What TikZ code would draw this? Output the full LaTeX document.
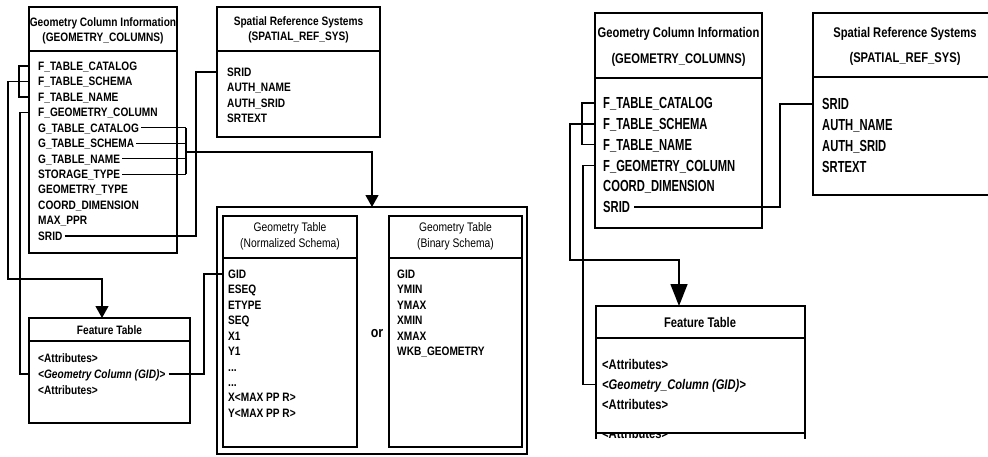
\documentclass[tikz,border=0pt]{standalone}
\usepackage{fontspec}
\setmainfont{Liberation Sans}
\newfontfamily\narrowL{Liberation Sans}[FakeStretch=0.83]
\newfontfamily\narrowR{Liberation Sans}[FakeStretch=0.70]
\newfontfamily\narrowH{Liberation Sans}[FakeStretch=0.80]
\usetikzlibrary{arrows.meta}

\begin{document}
\begin{tikzpicture}[x=1pt,y=-1pt,
  % table frames
  lbox/.style={draw, line width=1.4pt, anchor=north west, inner sep=0pt, outer sep=0pt},
  rbox/.style={draw, line width=1.6pt, anchor=north west, inner sep=0pt, outer sep=0pt},
  lsep/.style={line width=2pt},
  rsep/.style={line width=2.5pt},
  % text rows
  lrow/.style={anchor=west, inner sep=0pt, text height=8.7pt, text depth=0pt,
    font=\narrowL\bfseries\fontsize{12.2pt}{14pt}\selectfont},
  lhead/.style={lrow, anchor=center},
  lghead/.style={anchor=center, inner sep=0pt, text height=8.7pt, text depth=0pt,
    font=\narrowL\fontsize{12.4pt}{14pt}\selectfont},
  rrow/.style={anchor=west, inner sep=0pt, text height=11.5pt, text depth=0pt,
    font=\narrowR\bfseries\fontsize{16pt}{18pt}\selectfont},
  rhead/.style={anchor=center, inner sep=0pt, text height=10pt, text depth=0pt,
    font=\narrowH\bfseries\fontsize{14pt}{16pt}\selectfont},
  rfrow/.style={rhead, anchor=west},
  % connectors
  lcon/.style={line width=1.2pt},
  rcon/.style={line width=1.5pt},
  ltip/.style={-{Triangle[width=13pt,length=12pt]}},
  rtip/.style={-{Triangle[width=17pt,length=22pt]}}
]
\path[use as bounding box] (0,0) rectangle (988,456);
\clip (0,0) rectangle (988,456);

%================ left model ================
% Geometry Column Information
\node[lbox, minimum width=148pt, minimum height=246pt] (lgci) at (29,7) {};
\draw[lsep] (29,51) -- (177,51);
\node[lhead] (lgcih1) at (103,22) {Geometry Column Information};
\node[lhead] (lgcih2) at (103,37) {(GEOMETRY\_COLUMNS)};
\node[lrow] (lftc)  at (38,66)     {F\_TABLE\_CATALOG};
\node[lrow] (lfts)  at (38,81.45)  {F\_TABLE\_SCHEMA};
\node[lrow] (lftn)  at (38,96.9)   {F\_TABLE\_NAME};
\node[lrow] (lfgc)  at (38,112.35) {F\_GEOMETRY\_COLUMN};
\node[lrow] (lgtc)  at (38,127.8)  {G\_TABLE\_CATALOG};
\node[lrow] (lgts)  at (38,143.25) {G\_TABLE\_SCHEMA};
\node[lrow] (lgtn)  at (38,158.7)  {G\_TABLE\_NAME};
\node[lrow] (lstt)  at (38,174.15) {STORAGE\_TYPE};
\node[lrow] (lgty)  at (38,189.6)  {GEOMETRY\_TYPE};
\node[lrow] (lcdim) at (38,205.05) {COORD\_DIMENSION};
\node[lrow] (lmppr) at (38,220.5)  {MAX\_PPR};
\node[lrow] (lsrid) at (38,235.95) {SRID};

% Spatial Reference Systems
\node[lbox, minimum width=163pt, minimum height=130pt] (lsrs) at (217,7) {};
\draw[lsep] (217,51) -- (380,51);
\node[lhead] (lsrsh1) at (298.5,21.5) {Spatial Reference Systems};
\node[lhead] (lsrsh2) at (298.5,36)   {(SPATIAL\_REF\_SYS)};
\node[lrow] (lssrid) at (227,72)    {SRID};
\node[lrow] (lsauth) at (227,87.5)  {AUTH\_NAME};
\node[lrow] (lsasr)  at (227,103)   {AUTH\_SRID};
\node[lrow] (lstext) at (227,118.5) {SRTEXT};

% Feature Table
\node[lbox, minimum width=161pt, minimum height=105pt] (lfeat) at (29,318) {};
\draw[lsep] (29,341) -- (190,341);
\node[lhead] (lfeath) at (109.5,330) {Feature Table};
\node[lrow] (lfa1)  at (38,358) {<Attributes>};
\node[lrow] (lgcol) at (38,374) {\itshape <Geometry Column (GID)>};
\node[lrow] (lfa2)  at (38,390) {<Attributes>};

% Geometry tables and their frame
\node[lbox, minimum width=310pt, minimum height=247pt] (lcont) at (217,207) {};
\node[lbox, minimum width=134pt, minimum height=231pt] (lnorm) at (223,216) {};
\draw[lsep] (223,258) -- (357,258);
\node[lghead] (lnormh1) at (290,227.5) {Geometry Table};
\node[lghead] (lnormh2) at (290,243)   {(Normalized Schema)};
\node[lrow] (ngid)  at (228,274)    {GID};
\node[lrow] (neseq) at (228,289.45) {ESEQ};
\node[lrow] (netyp) at (228,304.9)  {ETYPE};
\node[lrow] (nseq)  at (228,320.35) {SEQ};
\node[lrow] (nx1)   at (228,335.8)  {X1};
\node[lrow] (ny1)   at (228,351.25) {Y1};
\node[lrow] (ndot1) at (228,366.7)  {...};
\node[lrow] (ndot2) at (228,382.15) {...};
\node[lrow] (nxmax) at (228,397.6)  {X<MAX PP R>};
\node[lrow] (nymax) at (228,413.05) {Y<MAX PP R>};

\node[inner sep=0pt, font=\narrowL\bfseries\fontsize{15pt}{17pt}\selectfont] (orword) at (377,334) {or};

\node[lbox, minimum width=133pt, minimum height=231pt] (lbin) at (389,216) {};
\draw[lsep] (389,258) -- (522,258);
\node[lghead] (lbinh1) at (455.5,227.5) {Geometry Table};
\node[lghead] (lbinh2) at (455.5,243)   {(Binary Schema)};
\node[lrow] (bgid)  at (397,274)    {GID};
\node[lrow] (bymin) at (397,289.45) {YMIN};
\node[lrow] (bymax) at (397,304.9)  {YMAX};
\node[lrow] (bxmin) at (397,320.35) {XMIN};
\node[lrow] (bxmax) at (397,335.8)  {XMAX};
\node[lrow] (bwkb)  at (397,351.25) {WKB\_GEOMETRY};

% left connectors
\coordinate (lbend) at (8,279);
\coordinate (ldrop) at (102,279);
\coordinate (lbus)  at (186,152);
\coordinate (lsj)   at (196,0);
\coordinate (lgj)   at (204,0);

\draw[lcon] (lftc.west -| lgci.west) -- ++(-10,0) |- (lftn.west -| lgci.west);
\draw[lcon, ltip] (lfts.west -| lgci.west) -| (lbend) -- (ldrop) -- (ldrop |- lfeat.north);
\draw[lcon] (lfgc.west -| lgci.west) -- ++(-9,0) |- (lgcol.west -| lfeat.west);
\draw[lcon] ([xshift=2pt]lgtc.east) -- (lgtc.east -| lbus);
\draw[lcon] ([xshift=2pt]lgts.east) -- (lgts.east -| lbus);
\draw[lcon] ([xshift=2pt]lgtn.east) -- (lgtn.east -| lbus);
\draw[lcon] ([xshift=2pt]lstt.east) -- (lstt.east -| lbus);
\draw[lcon] (lgtc.east -| lbus) -- (lstt.east -| lbus);
\draw[lcon, ltip] (lbus) -| (lcont.north);
\draw[lcon] ([xshift=2pt]lsrid.east) -| (lsj |- lssrid.west) -- (lssrid.west -| lsrs.west);
\draw[lcon] ([xshift=3pt]lgcol.east) -| (lgj |- ngid.west) -- (ngid.west -| lnorm.west);

%================ right model ================
% Geometry Column Information
\node[rbox, minimum width=167pt, minimum height=215pt] (rgci) at (595,13) {};
\draw[rsep] (595,78) -- (762,78);
\node[rhead] (rgcih1) at (678.5,32) {Geometry Column Information};
\node[rhead] (rgcih2) at (678.5,58.5) {(GEOMETRY\_COLUMNS)};
\node[rrow] (rftc)  at (603,103)   {F\_TABLE\_CATALOG};
\node[rrow] (rfts)  at (603,123.8) {F\_TABLE\_SCHEMA};
\node[rrow] (rftn)  at (603,144.6) {F\_TABLE\_NAME};
\node[rrow] (rfgc)  at (603,165.4) {F\_GEOMETRY\_COLUMN};
\node[rrow] (rcdim) at (603,186.2) {COORD\_DIMENSION};
\node[rrow] (rsrid) at (603,207)   {SRID};

% Spatial Reference Systems
\node[rbox, minimum width=184pt, minimum height=182pt] (rsrs) at (813,13) {};
\draw[rsep] (813,77) -- (997,77);
\node[rhead] (rsrsh1) at (905,32)   {Spatial Reference Systems};
\node[rhead] (rsrsh2) at (905,57.5) {(SPATIAL\_REF\_SYS)};
\node[rrow] (rssrid) at (822,104)   {SRID};
\node[rrow] (rsauth) at (822,124.8) {AUTH\_NAME};
\node[rrow] (rsasr)  at (822,145.6) {AUTH\_SRID};
\node[rrow] (rstext) at (822,166.4) {SRTEXT};

% Feature Table
\node[rbox, minimum width=209pt, minimum height=127pt] (rfeat) at (596,306) {};
\draw[rsep] (596,338) -- (805,338);
\node[rhead] (rfeath) at (700,322) {Feature Table};
\node[rfrow] (rfa1)  at (602,364)   {<Attributes>};
\node[rfrow] (rgcol) at (602,384.5) {\itshape <Geometry\_Column (GID)>};
\node[rfrow] (rfa2)  at (602,404.5) {<Attributes>};
% the frame runs on past its bottom edge into a cut-off row
\draw[line width=1.6pt] (rfeat.south west) -- ++(0,6);
\draw[line width=1.6pt] (rfeat.south east) -- ++(0,6);
\begin{scope}
  \clip (597,434) rectangle (804,439);
  \node[rfrow] (rfa3) at (602,433) {<Attributes>};
\end{scope}

% right connectors
\coordinate (rbend) at (570,260);
\coordinate (rdrop) at (679,260);
\coordinate (rsj)   at (780,0);

\draw[rcon] (rftc.west -| rgci.west) -- ++(-13,0) |- (rftn.west -| rgci.west);
\draw[rcon, rtip] (rfts.west -| rgci.west) -| (rbend) -- (rdrop) -- (rdrop |- rfeat.north);
\draw[rcon] (rfgc.west -| rgci.west) -- ++(-12,0) |- (rgcol.west -| rfeat.west);
\draw[rcon] ([xshift=4pt]rsrid.east) -| (rsj |- rssrid.west) -- (rssrid.west -| rsrs.west);
\end{tikzpicture}
\end{document}
